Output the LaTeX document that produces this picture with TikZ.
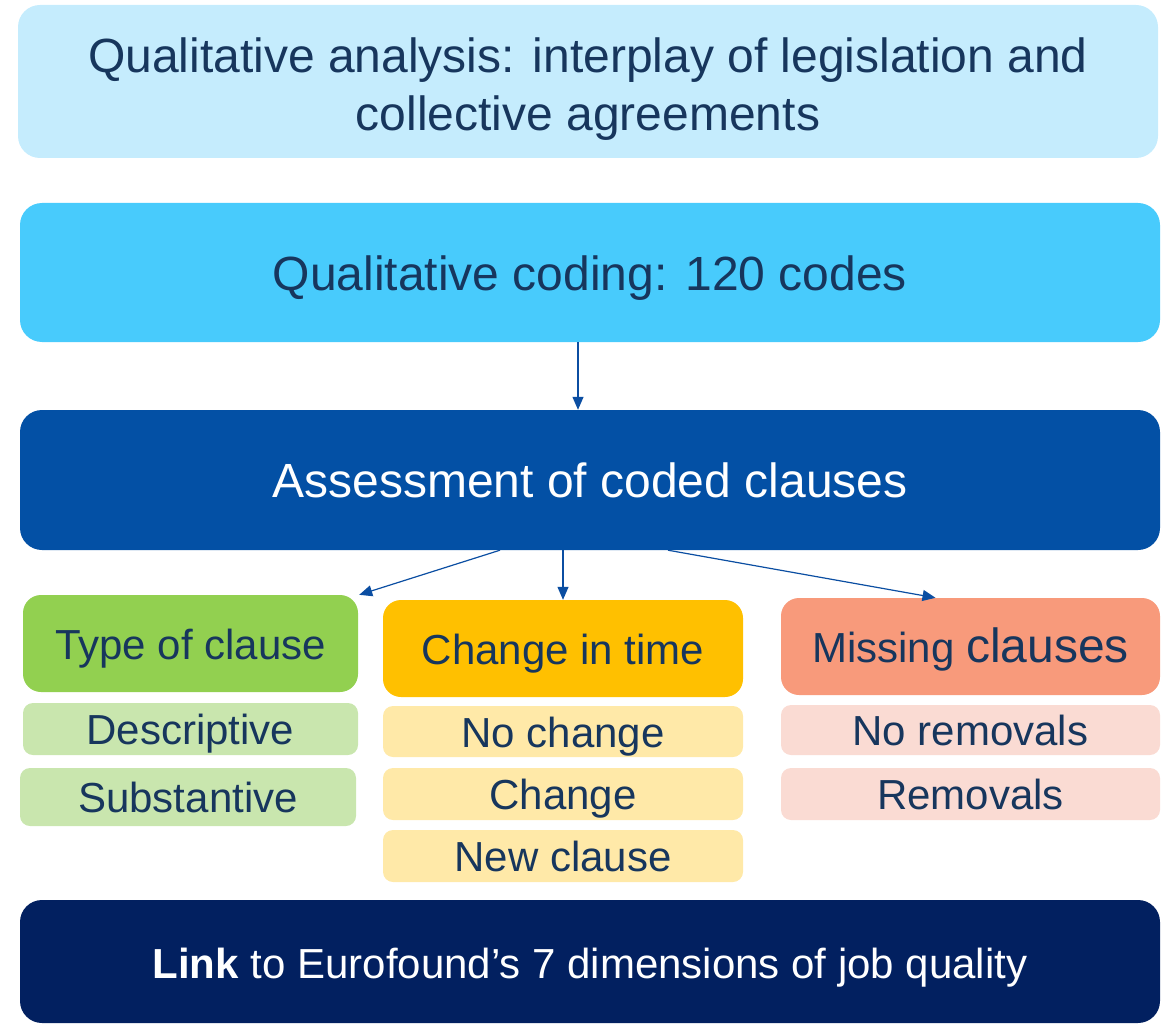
\documentclass[tikz,border=0pt]{standalone}
\usepackage{fontspec}
\setmainfont{Liberation Sans}
\usetikzlibrary{arrows.meta}
\definecolor{txt}{HTML}{17365D}
\definecolor{paleblue}{HTML}{C5ECFD}
\definecolor{skyblue}{HTML}{48CBFC}
\definecolor{midblue}{HTML}{0350A5}
\definecolor{navy}{HTML}{022060}
\definecolor{green1}{HTML}{92D050}
\definecolor{green2}{HTML}{C9E6AE}
\definecolor{gold1}{HTML}{FFC000}
\definecolor{gold2}{HTML}{FFE9A8}
\definecolor{salmon1}{HTML}{F89A7B}
\definecolor{salmon2}{HTML}{FADBD3}
\definecolor{arrblue}{HTML}{0B4EA2}

\begin{document}
\begin{tikzpicture}[x=1pt,y=-1pt,
 wide/.style = {rounded corners=22pt, minimum width=1140pt, text=txt, align=center, text height=35pt, text depth=0pt, font=\fontsize{48}{58}\selectfont},
 cat/.style = {rounded corners=18pt, minimum height=97pt, text=txt, text height=31pt, text depth=0pt, font=\fontsize{42}{50}\selectfont},
 item/.style = {rounded corners=10pt, minimum height=52pt, text=txt, text height=31pt, text depth=0pt, font=\fontsize{42}{50}\selectfont},
 arr/.style = {draw=arrblue, line width=1.2pt, -{Triangle[width=11pt,length=13pt]}}]
\useasboundingbox (0,0) rectangle (1166,1024);
\node[wide] (analysis) [fill=paleblue, minimum height=153pt, text height=98pt] at (588,81.5) {\parbox[b]{1100pt}{\centering Qualitative analysis: interplay of legislation and\\collective agreements}};
\node[wide] (coding) [fill=skyblue, minimum height=139pt] at (590,272.5) {Qualitative coding: 120 codes};
\node[wide] (assess) [fill=midblue, minimum height=140pt, text=white] at (590,480) {Assessment of coded clauses};
\node[cat] (type) [fill=green1, minimum width=335pt] at (190.5,643.5) {Type of clause};
\node[item] (descr) [fill=green2, minimum width=335pt] at (190.5,729) {Descriptive};
\node[item] (subst) [fill=green2, minimum width=336pt, minimum height=58pt] at (188,797) {Substantive};
\node[cat] (change) [fill=gold1, minimum width=360pt] at (563,648.5) {Change in time};
\node[item] (nochange) [fill=gold2, minimum width=360pt, minimum height=51pt] at (563,731.5) {No change};
\node[item] (changed) [fill=gold2, minimum width=360pt] at (563,794) {Change};
\node[item] (newcl) [fill=gold2, minimum width=360pt] at (563,856) {New clause};
\node[cat] (missing) [fill=salmon1, minimum width=379pt] at (970.5,646.5) {Missing {\fontsize{48}{50}\selectfont clauses}};
\node[item] (norem) [fill=salmon2, minimum width=379pt, minimum height=50pt] at (970.5,730) {No removals};
\node[item] (rem) [fill=salmon2, minimum width=379pt] at (970.5,794) {Removals};
\node[wide] (link) [fill=navy, minimum height=123pt, text=white, text height=34pt, font=\fontsize{42}{50}\selectfont] at (590,961.5) {\textbf{Link} to Eurofound’s 7 dimensions of job quality};
\draw[arr] ([xshift=-12pt]coding.south) -- ([xshift=-12pt]assess.north);
\draw[arr] ([xshift=-90pt]assess.south) -- ([xshift=1pt]type.north east);
\draw[arr] (assess.south -| change.north) -- (change.north);
\draw[arr] ([xshift=78pt]assess.south) -- ([xshift=-35pt]missing.north);
\end{tikzpicture}
\end{document}
